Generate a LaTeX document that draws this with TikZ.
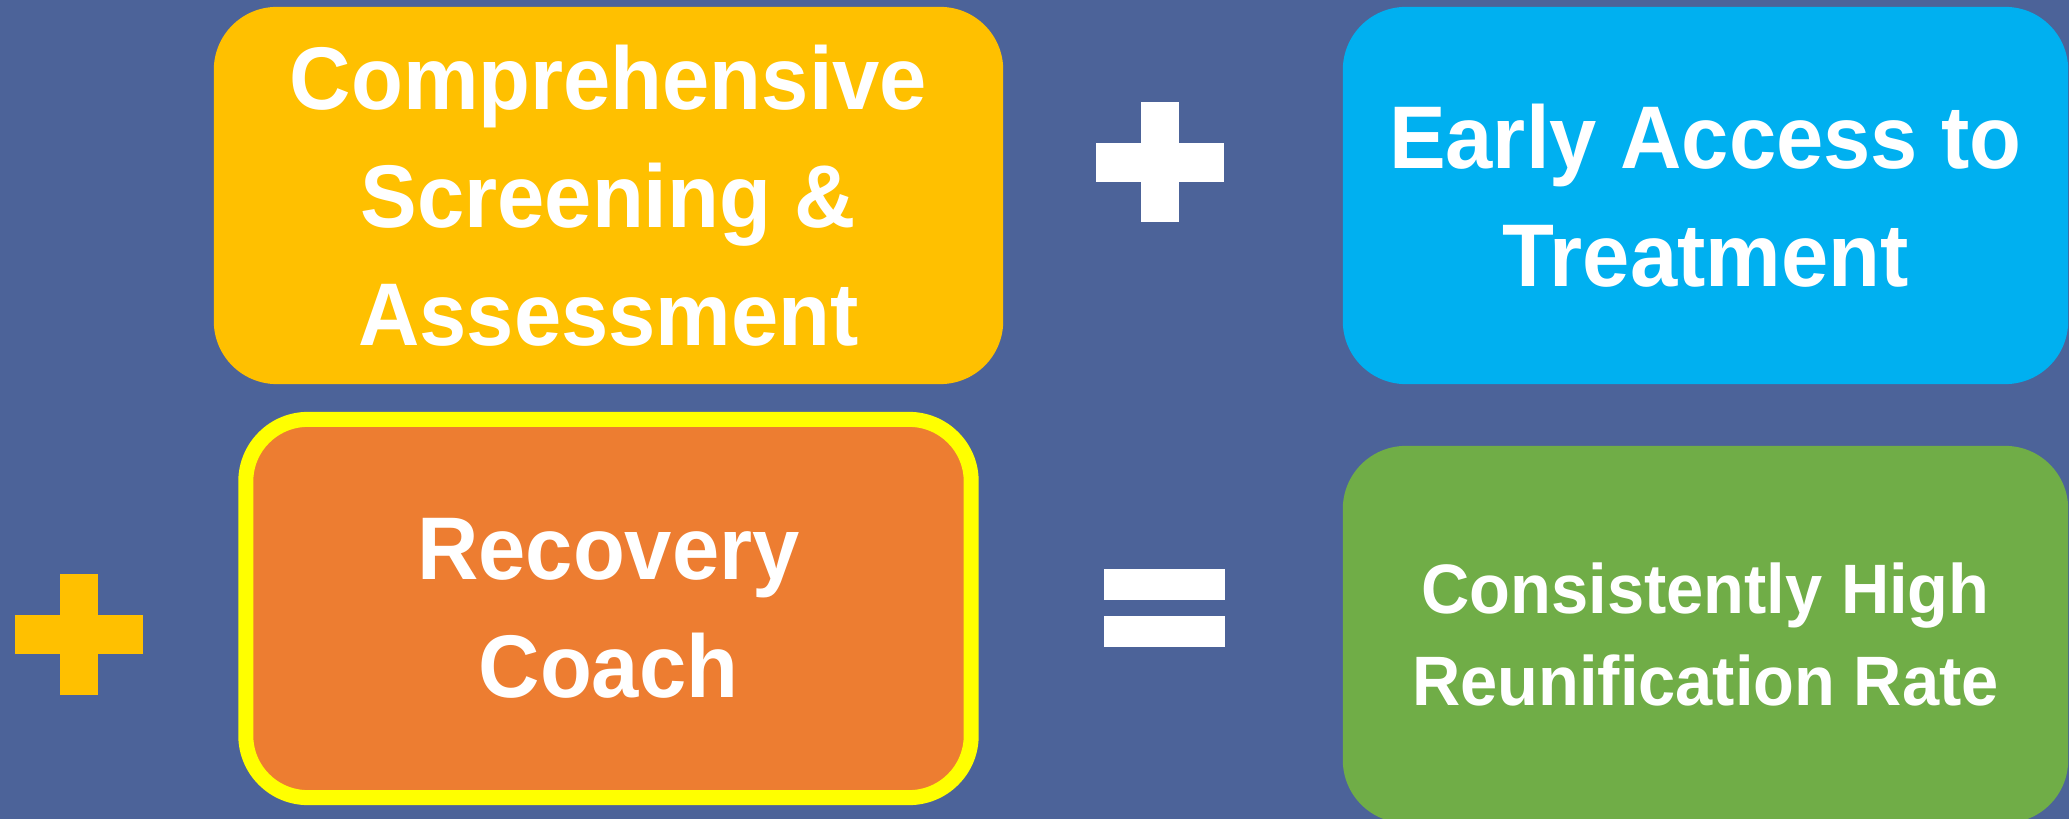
\documentclass[tikz,border=0pt]{standalone}
\usepackage{fontspec}
\setmainfont{Liberation Sans}[FakeStretch=0.955]
\usepackage{tikz}
\definecolor{slate}{HTML}{4C6399}
\definecolor{gold}{HTML}{FFC000}
\definecolor{sky}{HTML}{00B0F0}
\definecolor{tangerine}{HTML}{ED7D31}
\definecolor{leaf}{HTML}{70AD47}
\definecolor{lemon}{HTML}{FFFF00}
\begin{document}
\begin{tikzpicture}[x=0.01cm,y=-0.01cm]
		\tikzstyle{every node}+=[inner sep=0pt]
		\tikzstyle{card}=[rectangle,rounded corners=0.63cm,minimum height=3.77cm,align=center,text=white,font=\bfseries\fontsize{25.3}{33.5}\selectfont]
		\fill [slate] (0,0) rectangle (2069,819);
		\useasboundingbox (0,0) rectangle (2069,819);
		\node [card,fill=gold,minimum width=7.89cm] (screening) at (608.5,195.5) {Comprehensive\\Screening \&\\Assessment};
		\node [card,fill=sky,minimum width=7.25cm] (access) at (1705.5,195.5) {Early Access to\\Treatment};
		\node [card,fill=tangerine,draw=lemon,line width=0.15cm,rounded corners=0.62cm,minimum width=7.25cm,minimum height=3.78cm] (coach) at (608.5,608.5) {Recovery\\Coach};
		\node [card,fill=leaf,minimum width=7.25cm,font=\bfseries\fontsize{19.9}{26.3}\selectfont] (rate) at (1705.5,634.5) {Consistently High\\Reunification Rate};
		\fill [white] (1141,102) rectangle (1179,222);
		\fill [white] (1096,143) rectangle (1224,182);
		\fill [gold] (60,574) rectangle (98,695);
		\fill [gold] (15,615) rectangle (143,654);
		\fill [white] (1104,569) rectangle (1225,600);
		\fill [white] (1104,616) rectangle (1225,647);
\end{tikzpicture}
\end{document}
